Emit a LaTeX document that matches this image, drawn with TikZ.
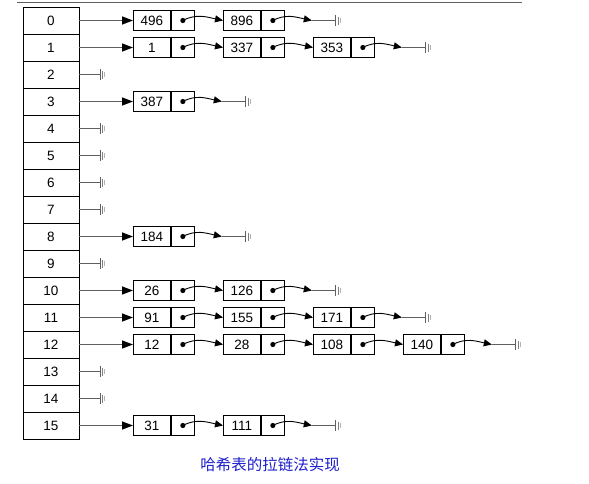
\documentclass[tikz,border=0pt]{standalone}
\usepackage{fontspec}
\setmainfont{Liberation Sans}
\newfontfamily\cjk{Noto Sans CJK SC}
\usetikzlibrary{arrows.meta}
\definecolor{capblue}{RGB}{30,30,205}
\definecolor{linegray}{RGB}{95,95,95}
\begin{document}
\begin{tikzpicture}[x=1pt,y=-1pt,
  numfont/.style={font=\fontsize{13.5}{13.5}\selectfont},
  cell/.style={draw, line width=0.9pt, minimum width=56pt, minimum height=27pt, inner sep=0pt, numfont},
  valbox/.style={draw, line width=0.9pt, minimum width=37pt, minimum height=20pt, inner sep=0pt, numfont},
  ptrbox/.style={draw, line width=0.9pt, minimum width=23pt, minimum height=20pt, inner sep=0pt},
  link/.style={line width=0.9pt, -{Triangle[length=8pt,width=7pt]}},
  headarrow/.style={draw=linegray, line width=1.4pt, -{Triangle[length=11pt,width=8pt,fill=black,color=black]}},
  nullline/.style={draw=linegray, line width=1.2pt},
  ground/.pic={
    \draw[linegray, line width=1.3pt] (0,-5.5) -- (0,5.5);
    \draw[gray, line width=1pt] (2.2,-4) -- (2.2,4);
    \draw[gray!60, line width=1pt] (4.4,-2.4) -- (4.4,2.4);
  }
]
\useasboundingbox (0,0) rectangle (589,483);
% top rule
\coordinate (ruleL) at (17,2.5);
\coordinate (ruleR) at (522,2.5);
\draw[linegray, line width=1.2pt] (ruleL) -- (ruleR);
% table
\foreach \i in {0,...,15} {
  \node[cell] (t\i) at (51, 20.5+27*\i) {\i};
}
% empty rows
\foreach \r in {2,4,5,6,7,9,13,14} {
  \coordinate (g\r) at ([xshift=21pt]t\r.east);
  \draw[nullline] (t\r.east) -- (g\r);
  \pic at (g\r) {ground};
}
% chains
\foreach \r/\n/\vals in {0/1/{496,896},1/2/{1,337,353},3/0/{387},8/0/{184},10/1/{26,126},11/2/{91,155,171},12/3/{12,28,108,140},15/1/{31,111}} {
  \foreach \v [count=\k from 0] in \vals {
    \node[valbox, anchor=west] (v\r-\k) at (133+90*\k, 20.5+27*\r) {\v};
    \node[ptrbox, anchor=west] (p\r-\k) at (v\r-\k.east) {};
    \fill (p\r-\k.center) circle (2.6pt);
    \ifnum\k>0
      \pgfmathtruncatemacro\prev{\k-1}
      \draw[link] (p\r-\prev.center) to[out=28,in=168] (v\r-\k.west);
    \fi
  }
  \draw[headarrow] (t\r.east) -- (v\r-0.west);
  \coordinate (e\r) at ([xshift=27pt]p\r-\n.east);
  \coordinate (g\r) at ([xshift=51pt]p\r-\n.east);
  \draw[link] (p\r-\n.center) to[out=28,in=168] (e\r);
  \draw[nullline] (e\r) -- (g\r);
  \pic at (g\r) {ground};
}
% caption
\node[font=\cjk\fontsize{15.5}{16}\selectfont, text=capblue, inner sep=0pt] (cap) at (270,465) {哈希表的拉链法实现};
\end{tikzpicture}
\end{document}
